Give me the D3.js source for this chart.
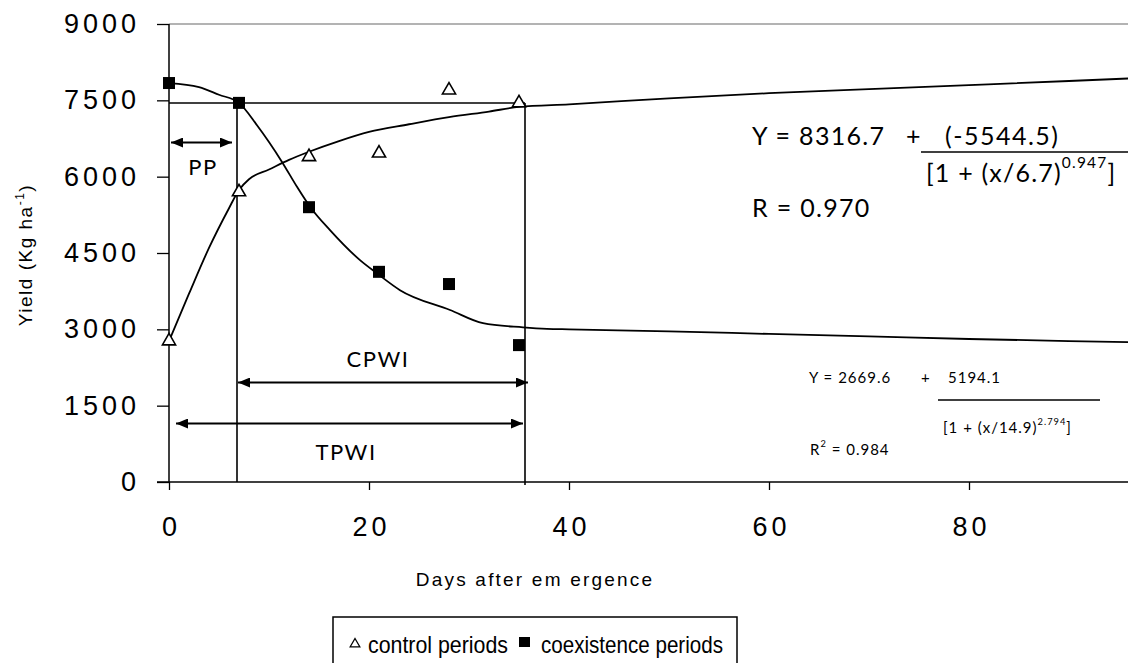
<!DOCTYPE html>
<html><head><meta charset="utf-8">
<script src="https://cdn.jsdelivr.net/npm/d3@7"></script>
<style>
html,body{margin:0;padding:0;background:#fff;}
svg{display:block;}
</style></head>
<body>
<script>
// ---- data ----
const days = [0, 7, 14, 21, 28, 35];
const controlYield = [2770, 5700, 6390, 6460, 7700, 7450];      // triangles
const coexistYield = [7840, 7450, 5400, 4130, 3890, 2690];      // squares
// fitted curves
const controlCurveX = [0, 2, 4, 6, 7, 8, 10, 12, 14, 17, 20, 24, 28, 32, 35, 40, 50, 60, 70, 80, 90, 96];
const controlCurveY = [2770, 3700, 4600, 5380, 5740, 5950, 6140, 6330, 6490, 6700, 6880, 7030, 7170, 7280, 7370, 7420, 7540, 7640, 7720, 7800, 7880, 7930];
const coexistCurveX = [0, 3, 5, 7, 8.8, 11.3, 12.8, 14.1, 16.1, 19.1, 20.8, 23.1, 28.1, 31.4, 35.4, 37.8, 40, 50, 60, 70, 80, 90, 96];
const coexistCurveY = [7840, 7760, 7610, 7450, 7010, 6290, 5800, 5410, 4950, 4360, 4100, 3770, 3380, 3120, 3040, 3010, 3000, 2960, 2910, 2860, 2810, 2770, 2750];
const yTicks = [0, 1500, 3000, 4500, 6000, 7500, 9000];
const xTicks = [0, 20, 40, 60, 80];
const legendLabels = ["control periods", "coexistence periods"];

const W = 1128, H = 663;
const svg = d3.select("body").append("svg").attr("width", W).attr("height", H);

const x = d3.scaleLinear().domain([0, 96]).range([169, 1129]);
const y = d3.scaleLinear().domain([0, 9000]).range([482, 24]);

const ARIAL = "'Liberation Sans', Arial, sans-serif";
const CAL = "Lato, 'Open Sans', sans-serif";

// top border
svg.append("line").attr("x1", 169).attr("x2", W).attr("y1", y(9000)).attr("y2", y(9000))
  .attr("stroke", "#9a9a9a").attr("stroke-width", 1.5);

// axes
const yAxis = d3.axisLeft(y).tickValues(yTicks).tickSize(12).tickPadding(20).tickFormat(d3.format("d"));
const gy = svg.append("g").attr("transform", `translate(${x(0)},0)`).call(yAxis);
const xAxis = d3.axisBottom(x).tickValues(xTicks).tickSize(8).tickPadding(27).tickFormat(d3.format("d"));
const gx = svg.append("g").attr("transform", `translate(0,${y(0)})`).call(xAxis);
[gx, gy].forEach(g => {
  g.select(".domain").attr("stroke", "#000").attr("stroke-width", 1.5);
  g.selectAll(".tick line").attr("stroke", "#000").attr("stroke-width", 1.3);
  g.selectAll(".tick text").attr("fill", "#000").attr("font-family", ARIAL)
    .attr("font-size", 27).style("letter-spacing", "4px");
});
gy.select(".domain").attr("d", `M0,${y(0)}V${y(9000)}`);
gx.select(".domain").attr("d", `M${x(0) - 12},0H${W}`);
gy.selectAll(".tick text").attr("dx", 3);
gx.selectAll(".tick text").attr("dx", 2);

// axis titles
svg.append("text").attr("x", 535).attr("y", 586).attr("text-anchor", "middle")
  .attr("font-family", ARIAL).attr("font-size", 19).style("letter-spacing", "2.2px")
  .text("Days after em ergence");
const yt = svg.append("text").attr("transform", "translate(32,255) rotate(-90)")
  .attr("text-anchor", "middle").attr("font-family", ARIAL).attr("font-size", 19)
  .style("letter-spacing", "1.5px");
yt.append("tspan").text("Yield (Kg ha");
yt.append("tspan").attr("dy", -8).attr("font-size", 12).text("-1");
yt.append("tspan").attr("dy", 8).text(")");

// reference lines
const tCrit1 = 7, tCrit2 = 35.6, yRef = 7448;
const ref = svg.append("g").attr("stroke", "#000").attr("stroke-width", 1.6);
ref.append("line").attr("x1", x(0)).attr("x2", x(tCrit2)).attr("y1", y(yRef)).attr("y2", y(yRef));
ref.append("line").attr("x1", x(tCrit1) - 2).attr("x2", x(tCrit1) - 2).attr("y1", y(yRef)).attr("y2", y(0));
ref.append("line").attr("x1", x(tCrit2)).attr("x2", x(tCrit2)).attr("y1", y(yRef)).attr("y2", y(0) + 3);

// arrow markers
const defs = svg.append("defs");
defs.append("marker").attr("id", "ah").attr("viewBox", "0 0 12 10").attr("refX", 12).attr("refY", 5)
  .attr("markerWidth", 12).attr("markerHeight", 10).attr("markerUnits", "userSpaceOnUse")
  .attr("orient", "auto-start-reverse")
  .append("path").attr("d", "M0,0L12,5L0,10Z").attr("fill", "#000");

function dblArrow(x1, x2, yy) {
  svg.append("line").attr("x1", x1).attr("x2", x2).attr("y1", yy).attr("y2", yy)
    .attr("stroke", "#000").attr("stroke-width", 1.8)
    .attr("marker-start", "url(#ah)").attr("marker-end", "url(#ah)");
}
dblArrow(171, 232, 142.5);
dblArrow(238, 528, 382.5);
dblArrow(176, 523, 423.5);

function label(t, cx, by, fs) {
  svg.append("text").attr("x", cx).attr("y", by).attr("text-anchor", "middle")
    .attr("font-family", CAL).attr("font-size", fs).style("letter-spacing", "1.5px").text(t);
}
label("PP", 203, 175, 22);
label("CPWI", 378, 367, 22);
label("TPWI", 346, 460, 22);

// curves
const line = d3.line().x(d => x(d[0])).y(d => y(d[1])).curve(d3.curveMonotoneX);
svg.append("path").attr("d", line(d3.zip(controlCurveX, controlCurveY)))
  .attr("fill", "none").attr("stroke", "#000").attr("stroke-width", 1.8);
svg.append("path").attr("d", line(d3.zip(coexistCurveX, coexistCurveY)))
  .attr("fill", "none").attr("stroke", "#000").attr("stroke-width", 1.8);

// markers
const tri = d3.symbol().type(d3.symbolTriangle).size(75);
svg.selectAll(".tri").data(d3.zip(days, controlYield)).join("path")
  .attr("transform", d => `translate(${x(d[0])},${y(d[1])})`)
  .attr("d", tri).attr("fill", "#fff").attr("stroke", "#000").attr("stroke-width", 1.6);
svg.selectAll(".sq").data(d3.zip(days, coexistYield)).join("rect")
  .attr("x", d => x(d[0]) - 6).attr("y", d => y(d[1]) - 6)
  .attr("width", 12).attr("height", 12).attr("fill", "#000");

// equations
function eq(parts, x0, by, fs, ls) {
  const t = svg.append("text").attr("x", x0).attr("y", by).attr("font-family", CAL)
    .attr("font-size", fs).style("letter-spacing", ls + "px").attr("fill", "#000");
  parts.forEach(p => {
    const s = t.append("tspan").text(p.t);
    if (p.sup) s.attr("font-size", fs * 0.62).attr("dy", -fs * 0.55);
    if (p.after) s.attr("dy", fs * 0.55);
  });
  return t;
}
eq([{t: "Y = 8316.7"}], 752, 145, 25, 1.3);
eq([{t: "+"}], 906, 145, 25, 1.3);
eq([{t: "(-5544.5)"}], 945, 145, 25, 1.5);
svg.append("line").attr("x1", 921).attr("x2", W).attr("y1", 152).attr("y2", 152).attr("stroke", "#000").attr("stroke-width", 1.5);
eq([{t: "[1 + (x/6.7)"}, {t: "0.947", sup: true}, {t: "]", after: true}], 926, 182, 25, 1.2);
eq([{t: "R = 0.970"}], 752, 217, 25, 1.3);

eq([{t: "Y = 2669.6"}], 809, 383, 15, 1);
eq([{t: "+"}], 921, 383, 15, 1);
eq([{t: "5194.1"}], 948, 383, 15, 1);
svg.append("line").attr("x1", 938).attr("x2", 1100).attr("y1", 400).attr("y2", 400).attr("stroke", "#000").attr("stroke-width", 1.5);
eq([{t: "[1 + (x/14.9)"}, {t: "2.794", sup: true}, {t: "]", after: true}], 943, 433, 15, 1);
eq([{t: "R"}, {t: "2", sup: true}, {t: " = 0.984", after: true}], 810, 455, 15, 1);

// legend
svg.append("rect").attr("x", 333).attr("y", 617).attr("width", 404).attr("height", 70)
  .attr("fill", "#fff").attr("stroke", "#000").attr("stroke-width", 1.5);
svg.append("path").attr("transform", "translate(355,644)")
  .attr("d", d3.symbol().type(d3.symbolTriangle).size(40)).attr("fill", "#fff")
  .attr("stroke", "#000").attr("stroke-width", 1.3);
svg.append("rect").attr("x", 519).attr("y", 637).attr("width", 11).attr("height", 10).attr("fill", "#000");
svg.append("text").attr("x", 368).attr("y", 653).attr("font-family", ARIAL).attr("font-size", 24)
  .attr("textLength", 140).attr("lengthAdjust", "spacingAndGlyphs").text(legendLabels[0]);
svg.append("text").attr("x", 541).attr("y", 653).attr("font-family", ARIAL).attr("font-size", 24)
  .attr("textLength", 182).attr("lengthAdjust", "spacingAndGlyphs").text(legendLabels[1]);
</script>
</body></html>
